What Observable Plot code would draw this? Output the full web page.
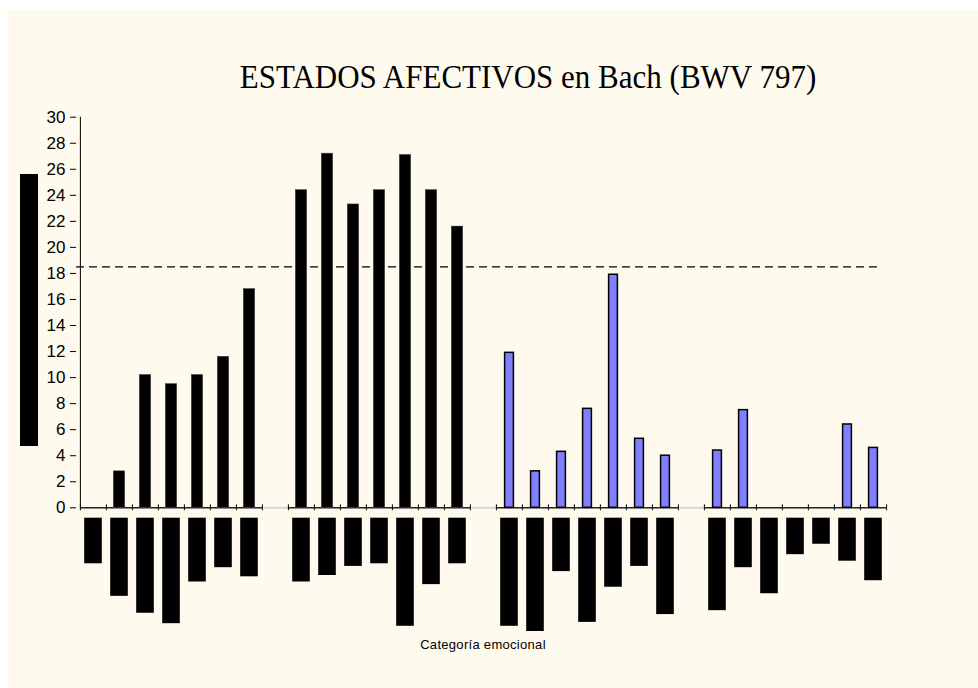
<!DOCTYPE html>
<html>
<head>
<meta charset="utf-8">
<script src="https://cdn.jsdelivr.net/npm/d3@7"></script>
<script src="https://cdn.jsdelivr.net/npm/@observablehq/plot@0.6"></script>
<style>
  html, body { margin: 0; padding: 0; background: #ffffff; }
  #wrap { position: relative; width: 978px; height: 688px; overflow: hidden; }
  #panel { position: absolute; left: 8px; top: 10px; right: 0; bottom: 0; background: #FFFAEE; }
  #chart { position: absolute; left: 0; top: 0; }
  #title { position: absolute; left: 528px; top: 62px; transform: translateX(-50%) scaleY(1.08); transform-origin: 50% 80%; white-space: nowrap;
           font-family: "Liberation Serif", "Times New Roman", serif; font-size: 31px; line-height: 1; color: #000; }
  #xlabel { position: absolute; left: 483px; top: 638px; transform: translateX(-50%); white-space: nowrap;
            font-family: "Liberation Sans", Arial, sans-serif; font-size: 13px; line-height: 1; letter-spacing: 0.3px; color: #000; }
  #ylabel { position: absolute; left: 20px; top: 174px; width: 18px; height: 272px; background: #000; }
</style>
</head>
<body>
<div id="wrap">
  <div id="panel"></div>
  <div id="chart"></div>
  <div id="title">ESTADOS AFECTIVOS en Bach (BWV 797)</div>
  <div id="ylabel"></div>
  <div id="xlabel">Categoría emocional</div>
</div>
<script>
// ---- data ----
const groupNames = ["G1", "G2", "G3", "G4"];
const categories1 = ["A1", "A2", "A3", "A4", "A5", "A6", "A7"];
const categories2 = ["B1", "B2", "B3", "B4", "B5", "B6", "B7"];
const categories3 = ["C1", "C2", "C3", "C4", "C5", "C6", "C7"];
const categories4 = ["D1", "D2", "D3", "D4", "D5", "D6", "D7"];

const values1 = [0, 2.8, 10.2, 9.5, 10.2, 11.6, 16.8];
const values2 = [24.4, 27.2, 23.3, 24.4, 27.1, 24.4, 21.6];
const values3 = [11.9, 2.8, 4.3, 7.6, 17.9, 5.3, 4.0];
const values4 = [4.4, 7.5, 0, 0, 0, 6.4, 4.6];

// redacted (blacked-out) category label lengths, in axis units below zero
const labelLen1 = [4.3, 6.8, 8.1, 8.9, 5.7, 4.6, 5.3];
const labelLen2 = [5.7, 5.2, 4.5, 4.3, 9.1, 5.9, 4.3];
const labelLen3 = [9.1, 9.5, 4.9, 8.8, 6.1, 4.5, 8.2];
const labelLen4 = [7.9, 4.6, 6.6, 3.6, 2.8, 4.1, 5.6];

const yTicks = [0, 2, 4, 6, 8, 10, 12, 14, 16, 18, 20, 22, 24, 26, 28, 30];
const threshold = 18.5;
const gapKeys = ["gap1", "gap2", "gap3"];

// ---- build table ----
const cats = [categories1, categories2, categories3, categories4];
const vals = [values1, values2, values3, values4];
const lens = [labelLen1, labelLen2, labelLen3, labelLen4];
const table = [];
const slots = [];
cats.forEach((cs, g) => {
  cs.forEach((c, i) => {
    table.push({cat: c, group: groupNames[g], value: vals[g][i], len: lens[g][i]});
    slots.push(c);
  });
  if (g < gapKeys.length) slots.push(gapKeys[g]);
});
const blackGroups = new Set(["G1", "G2"]);
const catSlots = slots.filter(d => !gapKeys.includes(d));

const xRange = [76, 889];
const bw = (xRange[1] - xRange[0]) / slots.length;

const hasAxisMark = typeof Plot.axisY === "function";
const axisMarks = hasAxisMark
  ? [Plot.axisY(yTicks, {tickSize: 6, tickPadding: 5, fontSize: 17, label: null, stroke: "#000", color: "#000", fill: "#000"})]
  : [];

const chart = Plot.plot({
  width: 978,
  height: 688,
  marginLeft: 76,
  marginRight: 98,
  marginTop: 117,
  marginBottom: 50,
  style: {background: "transparent", fontFamily: "'Liberation Sans', Arial, sans-serif", fontSize: "17px", color: "#000"},
  x: {type: "band", domain: slots, range: xRange, padding: 0, axis: null},
  y: hasAxisMark
    ? {domain: [-10, 30], range: [637.5, 116.7], label: null}
    : {domain: [-10, 30], range: [637.5, 116.7], ticks: yTicks, tickSize: 6, tickPadding: 6, label: null},
  marks: [
    ...axisMarks,
    // threshold dashed line
    Plot.ruleY([threshold], {stroke: "#000", strokeWidth: 1.2, strokeDasharray: "8,5"}),
    // zero axis: grey under gaps, black under categories
    Plot.tickY(gapKeys, {x: d => d, y: 0, stroke: "#d6d6d6", strokeWidth: 2}),
    Plot.tickY(catSlots, {x: d => d, y: 0, stroke: "#000", strokeWidth: 1.3}),
    // y axis line
    Plot.ruleX([slots[0]], {x: d => d, y1: 0, y2: 30, dx: -bw / 2, stroke: "#000"}),
    // slot boundary ticks
    Plot.ruleX(slots, {x: d => d, y1: 0, y2: 0, dx: -bw / 2, insetTop: -3, insetBottom: -3, stroke: "#000"}),
    Plot.ruleX([slots[slots.length - 1]], {x: d => d, y1: 0, y2: 0, dx: bw / 2, insetTop: -3, insetBottom: -3, stroke: "#000"}),
    // black bars
    Plot.rectY(table.filter(d => d.value > 0 && blackGroups.has(d.group)), {
      x: "cat", y1: 0, y2: "value", fill: "#000", stroke: "#444", strokeWidth: 0.5, insetLeft: 7.3, insetRight: 7.3
    }),
    // blue bars
    Plot.rectY(table.filter(d => d.value > 0 && !blackGroups.has(d.group)), {
      x: "cat", y1: 0, y2: "value", fill: "#8080FF", stroke: "#000", strokeWidth: 1.5, insetLeft: 8.6, insetRight: 8.6
    }),
    // redacted category labels below the axis
    Plot.rectY(table, {x: "cat", y1: 0, y2: d => -d.len, fill: "#000", insetTop: 10.4, insetLeft: 4.2, insetRight: 4.2})
  ]
});
document.getElementById("chart").appendChild(chart);
</script>
</body>
</html>
